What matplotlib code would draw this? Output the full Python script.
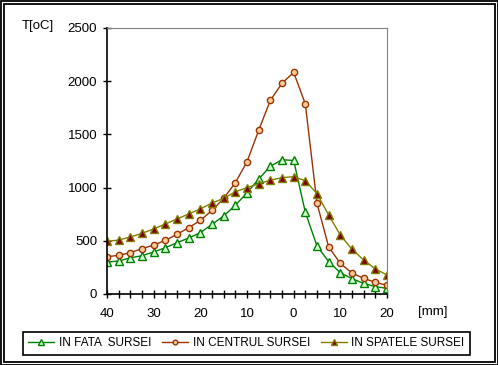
import matplotlib.pyplot as plt
from matplotlib.patches import Rectangle

plt.rcParams['font.family'] = ['Liberation Sans', 'DejaVu Sans']

# pozitia fata de sursa [mm], -40 ... 20, pas 2.5
pos = [-40, -37.5, -35, -32.5, -30, -27.5, -25, -22.5, -20, -17.5, -15, -12.5, -10,
       -7.5, -5, -2.5, 0, 2.5, 5, 7.5, 10, 12.5, 15, 17.5, 20]

fata = [300, 310, 340, 360, 395, 435, 482, 526, 576, 655, 733, 834, 950,
        1080, 1200, 1262, 1255, 768, 451, 304, 200, 144, 100, 69, 53]
centru = [351, 363, 388, 426, 460, 504, 561, 623, 692, 785, 899, 1046, 1243,
          1538, 1820, 1980, 2083, 1786, 852, 442, 288, 197, 147, 110, 82]
spate = [495, 507, 536, 570, 611, 658, 705, 752, 800, 855, 899, 960, 1000,
         1034, 1071, 1093, 1103, 1065, 943, 742, 554, 420, 320, 235, 179]

xlabels = {-40: '40', -30: '30', -20: '20', -10: '10', 0: '0', 10: '10', 20: '20'}

fig = plt.figure(figsize=(4.98, 3.65), dpi=100)
ax = fig.add_axes([107 / 498, 71 / 365, 280 / 498, 266 / 365])

ax.plot(pos, fata, '-^', color='#008000', lw=1, ms=5.5, mfc='#ccffcc', mec='#008000',
        mew=1, label='IN FATA  SURSEI')
ax.plot(pos, centru, '-o', color='#993300', lw=1, ms=4.5, mfc='#ffcc99', mec='#993300',
        mew=1, label='IN CENTRUL SURSEI')
ax.plot(pos, spate, '-^', color='#808000', lw=1, ms=5.5, mfc='#800000', mec='#808000',
        mew=1, label='IN SPATELE SURSEI')

ax.set_xlim(-40, 20)
ax.set_ylim(0, 2500)
ax.set_yticks([0, 500, 1000, 1500, 2000, 2500])
ax.set_xticks(pos)
ax.set_xticklabels([xlabels.get(p, '') for p in pos])
ax.tick_params(axis='both', direction='inout', length=6, width=1, labelsize=9.5)
ax.tick_params(axis='y', pad=4)
ax.tick_params(axis='x', pad=7)

ax.spines['top'].set_color('#808080')
ax.spines['right'].set_color('#808080')
ax.spines['left'].set_linewidth(1.2)
ax.spines['bottom'].set_linewidth(1.2)

fig.text(22 / 498, 1 - 26 / 365, 'T[oC]', fontsize=9.5, va='center', ha='left')
fig.text(418 / 498, 1 - 312 / 365, '[mm]', fontsize=9.5, va='center', ha='left')

leg = fig.legend(loc='center', bbox_to_anchor=(246.5 / 498, 1 - 343.5 / 365), ncol=3,
                 fontsize=8.5, frameon=True, fancybox=False, framealpha=1,
                 edgecolor='black', handlelength=2.2, handletextpad=0.4,
                 columnspacing=0.9, borderpad=0.5, borderaxespad=0, markerscale=0.75)
leg.get_frame().set_linewidth(1.2)

# chenarul dublu din jurul graficului
fig.patches.append(Rectangle((0.5 / 498, 0.5 / 365), 497 / 498, 364 / 365, fill=False,
                             edgecolor='black', lw=1.3, transform=fig.transFigure))
fig.patches.append(Rectangle((3.5 / 498, 3.5 / 365), 491 / 498, 358 / 365, fill=False,
                             edgecolor='black', lw=1.3, transform=fig.transFigure))

fig.savefig('out.png', dpi=100)
